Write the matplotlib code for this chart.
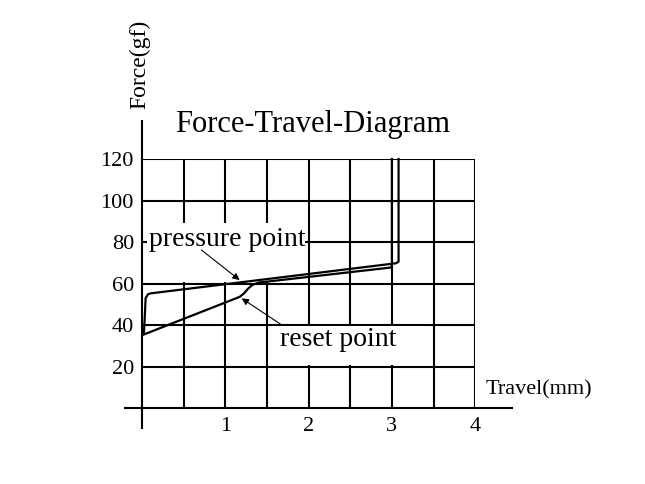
import matplotlib.pyplot as plt
from matplotlib.patches import Rectangle
import numpy as np

# ---- data ----
# pressing stroke (upper curve)
press_x = [0.02, 0.03, 0.04, 0.07, 0.10, 3.05, 3.08, 3.08]
press_y = [36.5, 44.0, 53.0, 54.9, 55.3, 69.8, 70.6, 120.0]

# return stroke (lower curve)
return_x = [3.00, 3.00, 2.98, 1.40, 1.32, 1.27, 1.22, 1.17, 0.00]
return_y = [120.0, 68.5, 67.7, 60.5, 59.3, 57.5, 55.2, 53.6, 35.2]

x_ticks = [1, 2, 3, 4]
y_ticks = [20, 40, 60, 80, 100, 120]
grid_x = np.arange(0.5, 4.01, 0.5)
grid_y = [20, 40, 60, 80, 100, 120]

plt.rcParams['font.family'] = ['Liberation Serif', 'DejaVu Serif']

fig = plt.figure(figsize=(6.45, 4.84), dpi=100)
ax = fig.add_axes([0.2206, 0.1566, 0.516, 0.5149])
ax.set_xlim(0, 4)
ax.set_ylim(0, 120)
for s in ax.spines.values():
    s.set_visible(False)

# grid
ax.vlines(grid_x, 0, 120, color='black', lw=1.5, zorder=1)
ax.hlines(grid_y, 0, 4, color='black', lw=1.5, zorder=1)

# white boxes behind the labels
ax.add_patch(Rectangle((0.06, 60.6), 1.89, 28.4, fc='white', ec='none', zorder=2))
ax.add_patch(Rectangle((1.56, 20.6), 1.88, 18.8, fc='white', ec='none', zorder=2))

# axes lines
ax.plot([0, 0], [-9.5, 138.3], color='black', lw=1.5, clip_on=False, zorder=3)
ax.plot([-0.21, 4.44], [0, 0], color='black', lw=1.5, clip_on=False, zorder=3)

# curves
ax.plot(press_x, press_y, color='black', lw=1.6, zorder=4, clip_on=False)
ax.plot(return_x, return_y, color='black', lw=1.6, zorder=4, clip_on=False)

# ticks
ax.set_xticks(x_ticks)
ax.set_xticklabels([str(v) for v in x_ticks], fontsize=16)
ax.set_yticks(y_ticks)
ax.set_yticklabels([str(v) for v in y_ticks], fontsize=16)
ax.tick_params(length=0, pad=6)

# annotations
arrow = dict(arrowstyle='-|>', lw=0.8, color='black', mutation_scale=10,
             shrinkA=0, shrinkB=0)
ax.text(1.02, 81, 'pressure point', fontsize=20, ha='center', va='center', zorder=5)
ax.annotate('', xy=(1.17, 61.7), xytext=(0.71, 76.2), arrowprops=arrow, zorder=5)
ax.text(2.36, 33.3, 'reset point', fontsize=20, ha='center', va='center', zorder=5)
ax.annotate('', xy=(1.195, 52.9), xytext=(1.675, 40.1), arrowprops=arrow, zorder=5)

ax.text(4.13, 8.8, 'Travel(mm)', fontsize=16, ha='left', va='center')
fig.text(0.217, 0.866, 'Force(gf)', fontsize=17, rotation=90,
         ha='center', va='center')
fig.text(0.484, 0.742, 'Force-Travel-Diagram', fontsize=22,
         ha='center', va='center')

fig.savefig('out.png', dpi=100)
